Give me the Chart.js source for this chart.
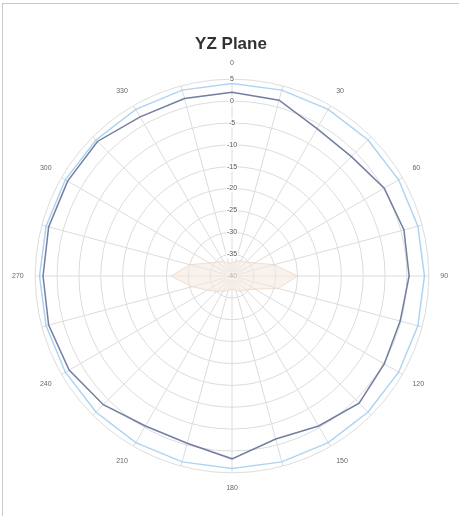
<!DOCTYPE html>
<html>
<head>
<meta charset="utf-8">
<script src="https://cdn.jsdelivr.net/npm/chart.js@4/dist/chart.umd.min.js"></script>
<style>
  html, body { margin: 0; padding: 0; background: #fff; }
  #box { position: absolute; left: 2px; top: 3px; width: 457px; height: 513px;
         border-left: 1px solid #c8c8c8; border-top: 1px solid #c8c8c8; }
  canvas { display: block; }
</style>
</head>
<body>
<div id="box"><canvas id="polar" width="456" height="512"></canvas></div>
<script>
// angles in degrees, one spoke every 15
var angles = ["0", "15", "30", "45", "60", "75", "90", "105", "120", "135", "150", "165",
              "180", "195", "210", "225", "240", "255", "270", "285", "300", "315", "330", "345"];

// co-polar gain (dB)
var gainCo = [2.0, 1.6, -1.1, -1.4, 0.2, 0.7, 0.5, -0.2, 0.2, 1.1, -0.4, -1.4,
              1.8, -0.4, -0.4, 1.6, 3.0, 3.4, 3.2, 3.4, 3.4, 3.5, 2.0, 2.0];

// cross-polar gain (dB), the faint shape near the centre
var gainCross = [-37, -36.5, -36, -35.5, -34, -30, -25, -29, -34, -35.5, -36, -36.5,
                 -37, -36.5, -36, -35, -33.5, -30.5, -26, -30, -34, -35.5, -36, -37];

// reference ring
var gainRef = [4, 4, 4, 4, 4, 4, 4, 4, 4, 4, 4, 4,
               4, 4, 4, 4, 4, 4, 4, 4, 4, 4, 4, 4];

var rMin = -40, rMax = 5, rStep = 5;

var ctx = document.getElementById("polar").getContext("2d");
new Chart(ctx, {
    type: "radar",
    data: {
        labels: angles,
        datasets: [{
            label: "Reference",
            data: gainRef,
            borderColor: "rgba(160, 205, 238, 0.85)",
            borderWidth: 1.5,
            backgroundColor: "rgba(0,0,0,0)",
            pointRadius: 0,
            fill: false
        }, {
            label: "Co-pol",
            data: gainCo,
            borderColor: "rgba(100, 112, 150, 0.9)",
            borderWidth: 1.5,
            backgroundColor: "rgba(0,0,0,0)",
            pointRadius: 0,
            fill: false
        }, {
            label: "Cross-pol",
            data: gainCross,
            borderColor: "rgba(235, 215, 200, 0.8)",
            borderWidth: 1,
            backgroundColor: "rgba(245, 232, 222, 0.6)",
            pointRadius: 0,
            fill: "start"
        }]
    },
    options: {
        responsive: false,
        animation: false,
        layout: { padding: { left: 8, right: 8, top: 0, bottom: 0 } },
        plugins: {
            legend: { display: false },
            tooltip: { enabled: false },
            title: {
                display: true,
                text: "YZ Plane",
                color: "#333",
                font: { family: "Liberation Sans", size: 17, weight: "bold" },
                padding: { top: 30, bottom: -18 }
            }
        },
        scales: {
            r: {
                min: rMin,
                max: rMax,
                ticks: {
                    stepSize: rStep,
                    color: "#555",
                    font: { family: "Liberation Sans", size: 7 },
                    backdropColor: "rgba(255,255,255,0.8)",
                    backdropPadding: 1
                },
                grid: { circular: true, color: "#dcdcdc", lineWidth: 1 },
                angleLines: { color: "#dcdcdc" },
                pointLabels: {
                    color: "#666",
                    font: { family: "Liberation Sans", size: 7 },
                    padding: 7,
                    callback: function (v, i) { return i % 2 === 0 ? v : ""; }
                }
            }
        }
    }
});
</script>
</body>
</html>
